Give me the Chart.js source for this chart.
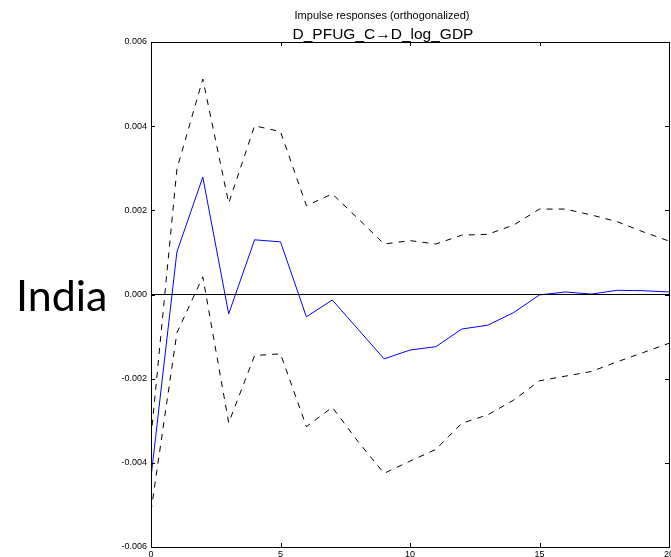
<!DOCTYPE html>
<html>
<head>
<meta charset="utf-8">
<script src="https://cdn.jsdelivr.net/npm/chart.js@4/dist/chart.umd.min.js"></script>
<style>
  html, body { margin: 0; padding: 0; background: #ffffff; }
  #wrap { width: 671px; height: 557px; position: relative; }
  canvas { display: block; }
</style>
</head>
<body>
<div id="wrap"><canvas id="irf" width="671" height="557"></canvas></div>
<script>
// Horizon (periods after the shock)
const steps = [0, 1, 2, 3, 4, 5, 6, 7, 8, 9, 10, 11, 12, 13, 14, 15, 16, 17, 18, 19, 20];

// Orthogonalized impulse response of D_log_GDP to a D_PFUG_C shock
const response = [-0.00434, 0.00101, 0.00279, -0.00046, 0.00130, 0.00125, -0.00053, -0.00013, -0.00083,
                  -0.00153, -0.00132, -0.00124, -0.00082, -0.00073, -0.00043, -0.00001, 0.00006, 0.00001,
                  0.00010, 0.00009, 0.00006];

// Upper and lower confidence bands
const upperBand = [-0.00340, 0.00298, 0.00512, 0.00217, 0.00401, 0.00387, 0.00211, 0.00239, 0.00180,
                   0.00120, 0.00128, 0.00120, 0.00141, 0.00143, 0.00165, 0.00203, 0.00203, 0.00189,
                   0.00173, 0.00149, 0.00127];
const lowerBand = [-0.00515, -0.00091, 0.00042, -0.00305, -0.00145, -0.00141, -0.00314, -0.00268, -0.00350,
                   -0.00425, -0.00396, -0.00368, -0.00306, -0.00286, -0.00251, -0.00205, -0.00194, -0.00183,
                   -0.00160, -0.00138, -0.00116];

// Axis ranges and tick spacing
const xRange = [0, 20];
const xStep = 5;
const yRange = [-0.006, 0.006];
const yStep = 0.002;

const titleText = 'Impulse responses (orthogonalized)';
const subtitleText = 'D_PFUG_C\u2192D_log_GDP';
const countryLabel = 'India';

const toPoints = (ys) => steps.map((s, i) => ({ x: s, y: ys[i] }));

// Frame, inward tick marks, titles and the side label
const decorations = {
  id: 'decorations',
  afterDraw(chart) {
    const { ctx, chartArea: a, scales } = chart;
    ctx.save();
    ctx.strokeStyle = '#000000';
    ctx.lineWidth = 1;
    ctx.beginPath();
    const tl = 4;
    scales.x.ticks.forEach(t => {
      const px = Math.round(scales.x.getPixelForValue(t.value)) + 0.5;
      ctx.moveTo(px, a.bottom); ctx.lineTo(px, a.bottom - tl);
      ctx.moveTo(px, a.top); ctx.lineTo(px, a.top + tl);
    });
    scales.y.ticks.forEach(t => {
      const py = Math.round(scales.y.getPixelForValue(t.value)) + 0.5;
      ctx.moveTo(a.left, py); ctx.lineTo(a.left + tl, py);
      ctx.moveTo(a.right, py); ctx.lineTo(a.right - tl, py);
    });
    ctx.stroke();
    ctx.strokeRect(Math.round(a.left) + 0.5, Math.round(a.top) + 0.5,
                   Math.round(a.right - a.left), Math.round(a.bottom - a.top));

    ctx.fillStyle = '#000000';
    ctx.textAlign = 'center';
    ctx.textBaseline = 'alphabetic';
    ctx.font = '11px "Liberation Sans", Arial, sans-serif';
    ctx.fillText(titleText, 382, 19);
    ctx.font = '15.5px "Liberation Sans", Arial, sans-serif';
    ctx.fillText(subtitleText, 383, 38.8);

    ctx.textAlign = 'left';
    ctx.font = '43px Lato, "Open Sans", sans-serif';
    ctx.fillText(countryLabel, 16, 311);
    ctx.restore();
  }
};

new Chart(document.getElementById('irf'), {
  type: 'line',
  data: {
    datasets: [
      {
        label: 'zero',
        data: xRange.map(x => ({ x, y: 0 })),
        borderColor: '#000000',
        borderWidth: 1,
        pointRadius: 0
      },
      {
        label: 'upper',
        data: toPoints(upperBand),
        borderColor: '#000000',
        borderWidth: 1,
        borderDash: [6, 6],
        pointRadius: 0,
        tension: 0
      },
      {
        label: 'lower',
        data: toPoints(lowerBand),
        borderColor: '#000000',
        borderWidth: 1,
        borderDash: [6, 6],
        pointRadius: 0,
        tension: 0
      },
      {
        label: 'response',
        data: toPoints(response),
        borderColor: '#0000ff',
        borderWidth: 1,
        pointRadius: 0,
        tension: 0
      }
    ]
  },
  options: {
    responsive: false,
    animation: false,
    devicePixelRatio: 1,
    layout: { padding: { top: 42, right: 2, bottom: 0, left: 0 } },
    plugins: {
      legend: { display: false },
      title: { display: false },
      tooltip: { enabled: false }
    },
    scales: {
      x: {
        type: 'linear',
        min: xRange[0],
        max: xRange[1],
        grid: { display: false, drawTicks: false },
        border: { display: false },
        ticks: {
          stepSize: xStep,
          padding: 2,
          color: '#000000',
          maxRotation: 0,
          font: { family: '"Liberation Sans", Arial, sans-serif', size: 9 }
        },
        afterFit(scale) {
          scale.height = 10;
          scale.paddingLeft = 0;
          scale.paddingRight = 0;
        }
      },
      y: {
        type: 'linear',
        min: yRange[0],
        max: yRange[1],
        grid: { display: false, drawTicks: false },
        border: { display: false },
        ticks: {
          stepSize: yStep,
          padding: 4,
          color: '#000000',
          font: { family: '"Liberation Sans", Arial, sans-serif', size: 9 },
          callback: (v) => Number(v).toFixed(3)
        },
        afterFit(scale) {
          scale.width = 151;
          scale.paddingTop = 0;
          scale.paddingBottom = 0;
        }
      }
    }
  },
  plugins: [decorations]
});
</script>
</body>
</html>
